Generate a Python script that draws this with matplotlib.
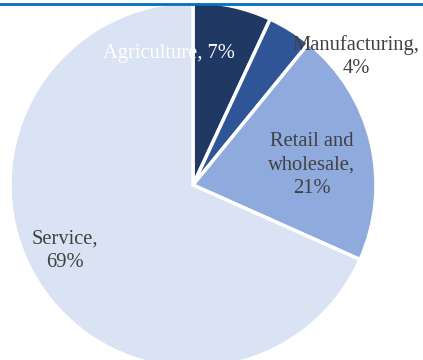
import matplotlib.pyplot as plt
from matplotlib.lines import Line2D

categories = ["Agriculture", "Manufacturing", "Retail and\nwholesale", "Service"]
values = [7, 4, 21, 69]
colors = ["#1F3864", "#2F5597", "#8FAADC", "#DAE3F3"]
label_colors = ["white", "#404040", "#404040", "#404040"]
# label centres in pie units (radius = 1)
label_pos = [(-0.13, 0.72), (0.89, 0.70), (0.65, 0.11), (-0.70, -0.36)]
label_sep = [", ", ",\n", ",\n", ",\n"]

fig = plt.figure(figsize=(4.23, 3.6), dpi=100)
ax = fig.add_axes([0, 0, 1, 1])

ax.pie(values, colors=colors, startangle=90, counterclock=False,
       wedgeprops=dict(edgecolor="white", linewidth=2.5))

for cat, v, pos, c, sep in zip(categories, values, label_pos, label_colors, label_sep):
    ax.text(pos[0], pos[1], f"{cat}{sep}{v}%", ha="center", va="center",
            color=c, fontsize=14.8, family="Liberation Serif", linespacing=1.3)

# pie centre at pixel (193, 185), radius 183 px
ax.set_xlim(-193 / 183, (423 - 193) / 183)
ax.set_ylim((185 - 360) / 183, 185 / 183)
ax.set_aspect("auto")
ax.axis("off")

# header rule and clipped heading above it
fig.add_artist(Line2D([0, 1], [0.988, 0.988], color="#0070C0", linewidth=2))
fig.text(0.09, 1.011, "Employment by Industry", color="#0070C0", fontsize=14,
         fontweight="bold", family="Liberation Serif", va="baseline")

fig.savefig("out.png", dpi=100)
